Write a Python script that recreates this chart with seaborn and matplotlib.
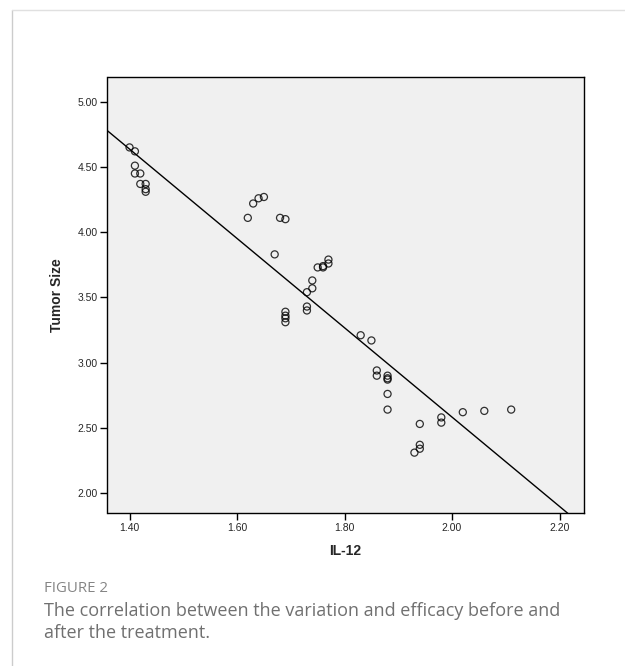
import numpy as np
import pandas as pd
import seaborn as sns
import matplotlib.pyplot as plt
from matplotlib.lines import Line2D

# values
il12 = [1.40, 1.41, 1.41, 1.41, 1.42, 1.42, 1.43, 1.43, 1.43,
        1.62, 1.63, 1.64, 1.65, 1.68, 1.69,
        1.67, 1.74, 1.74, 1.73, 1.75, 1.76, 1.76, 1.77, 1.77,
        1.73, 1.73, 1.69, 1.69, 1.69, 1.69,
        1.83, 1.85, 1.86, 1.86, 1.88, 1.88, 1.88, 1.88, 1.88,
        1.94, 1.98, 1.98, 2.02, 2.06, 2.11, 1.94, 1.94, 1.93]
tumor = [4.65, 4.62, 4.51, 4.45, 4.45, 4.37, 4.37, 4.33, 4.31,
         4.11, 4.22, 4.26, 4.27, 4.11, 4.10,
         3.83, 3.63, 3.57, 3.54, 3.73, 3.73, 3.74, 3.79, 3.76,
         3.43, 3.40, 3.39, 3.36, 3.34, 3.31,
         3.21, 3.17, 2.94, 2.90, 2.90, 2.88, 2.87, 2.76, 2.64,
         2.53, 2.58, 2.54, 2.62, 2.63, 2.64, 2.37, 2.34, 2.31]

df = pd.DataFrame({"IL-12": il12, "Tumor Size": tumor})

sns.set_style("ticks")
plt.rcParams['font.family'] = ['Liberation Sans', 'DejaVu Sans']

fig = plt.figure(figsize=(6.25, 6.66), dpi=100)
ax = fig.add_axes([0.172, 0.2297, 0.762, 0.6547])
ax.set_facecolor("#f0f0f0")
ax.set_xlim(1.359, 2.245)
ax.set_ylim(1.847, 5.19)

sns.regplot(data=df, x="IL-12", y="Tumor Size", ax=ax, ci=None, truncate=False,
            scatter_kws=dict(s=26, facecolors="none", edgecolors="black", linewidths=0.9),
            line_kws=dict(color="black", lw=1.0))
ax.set_xlim(1.359, 2.245)
ax.set_ylim(1.847, 5.19)

ax.set_xticks([1.4, 1.6, 1.8, 2.0, 2.2])
ax.set_xticklabels(["1.40", "1.60", "1.80", "2.00", "2.20"])
ax.set_yticks([2.0, 2.5, 3.0, 3.5, 4.0, 4.5, 5.0])
ax.set_yticklabels(["2.00", "2.50", "3.00", "3.50", "4.00", "4.50", "5.00"])
ax.tick_params(labelsize=7.5, length=5, width=1, color="black", direction="out", pad=2)
for s in ax.spines.values():
    s.set_color("black")
    s.set_linewidth(1.0)

ax.set_xlabel("IL-12", fontsize=10, fontweight="bold", labelpad=8)
ax.set_ylabel("Tumor Size", fontsize=10, fontweight="bold", labelpad=10)

# page frame lines
fig.add_artist(Line2D([12/625, 12/625], [0, 1 - 10/666], color="#cccccc", lw=1))
fig.add_artist(Line2D([12/625, 1], [1 - 10/666, 1 - 10/666], color="#e0e0e0", lw=1))

fig.text(44/625, 1 - 588/666, "FIGURE 2", fontsize=10.8, color="#858585",
         family=["Open Sans", "DejaVu Sans"], va="center")
fig.text(44/625, 1 - 611/666, "The correlation between the variation and efficacy before and",
         fontsize=13, color="#707070", family=["Open Sans", "DejaVu Sans"], va="center")
fig.text(44/625, 1 - 633/666, "after the treatment.",
         fontsize=13, color="#707070", family=["Open Sans", "DejaVu Sans"], va="center")

fig.savefig("out.png", dpi=100, facecolor="white")
